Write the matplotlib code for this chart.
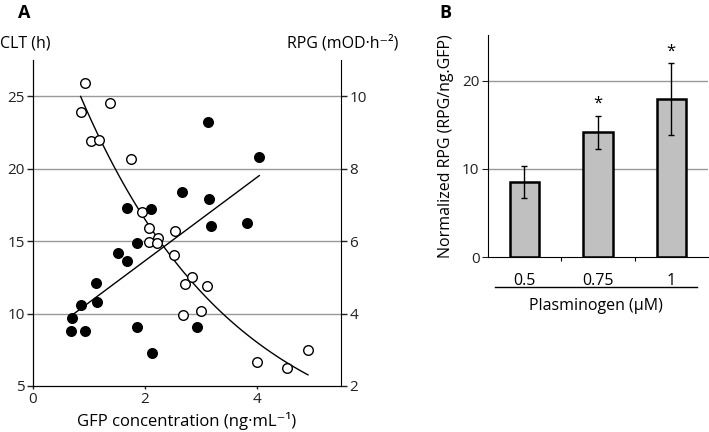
import numpy as np
import matplotlib
matplotlib.use("Agg")
import matplotlib.pyplot as plt

plt.rcParams['font.family'] = ['Open Sans', 'DejaVu Sans']

# Panel A: CLT (open circles, left axis) and RPG (filled circles, right axis) vs GFP
clt_gfp = [0.93, 0.85, 1.38, 1.03, 1.18, 1.75, 1.95, 2.07, 2.07, 2.23, 2.22,
           2.53, 2.51, 2.83, 2.71, 3.10, 2.68, 3.00, 4.00, 4.54, 4.91]
clt_h = [25.9, 23.9, 24.55, 21.9, 21.96, 20.7, 17.0, 15.9, 14.94, 15.2, 14.9,
         15.67, 14.07, 12.55, 12.05, 11.89, 9.92, 10.2, 6.63, 6.26, 7.5]

rpg_gfp = [3.12, 4.04, 2.66, 3.15, 1.67, 2.11, 3.82, 3.17, 1.86, 1.51, 1.67,
           1.13, 1.14, 0.85, 0.70, 0.68, 0.92, 1.85, 2.92, 2.12]
rpg_val = [9.30, 8.31, 7.35, 7.17, 6.92, 6.88, 6.50, 6.42, 5.96, 5.67, 5.46,
           4.84, 4.32, 4.25, 3.87, 3.51, 3.51, 3.63, 3.63, 2.92]

# Panel B: normalized RPG by plasminogen concentration
plg_labels = ['0.5', '0.75', '1']
norm_rpg = [8.5, 14.15, 17.9]
norm_err = [1.85, 1.9, 4.1]
signif = ['', '*', '*']

fig = plt.figure(figsize=(7.09, 4.32), dpi=100)

# ---- Panel A ----
ax = fig.add_axes([0.0466, 0.1065, 0.4344, 0.7545])
ax2 = ax.twinx()

ax.set_xlim(0, 5.5)
ax.set_ylim(5, 27.5)
ax2.set_ylim(2, 11)

for y in [10, 15, 20, 25]:
    ax.axhline(y, color='#999999', lw=1, zorder=0)

# exponential trendline for CLT
cx = np.array(clt_gfp)
b, a = np.polyfit(cx, np.log(clt_h), 1)
xs = np.linspace(cx.min(), cx.max(), 100)
ax.plot(xs, np.exp(a) * np.exp(b * xs), color='black', lw=1, zorder=2)
ax.scatter(clt_gfp, clt_h, s=48, facecolors='white', edgecolors='black',
           linewidths=1, zorder=3)

# linear trendline for RPG
rx = np.array(rpg_gfp)
m, c = np.polyfit(rx, rpg_val, 1)
xs2 = np.array([rx.min(), rx.max()])
ax2.plot(xs2, m * xs2 + c, color='black', lw=1, zorder=2)
ax2.scatter(rpg_gfp, rpg_val, s=48, color='black', zorder=3)

ax.set_xticks([0, 2, 4])
ax.set_yticks([5, 10, 15, 20, 25])
ax2.set_yticks([2, 4, 6, 8, 10])
for a_ in (ax, ax2):
    a_.spines['top'].set_visible(False)
    a_.tick_params(labelsize=11, length=4, width=1, pad=2, colors='#222222')
ax.spines['right'].set_visible(False)
ax.tick_params(axis='x', length=2)
ax.set_xlabel('GFP concentration (ng·mL⁻¹)', fontsize=12, labelpad=4)
fig.text(0.0, 0.90, 'CLT (h)', fontsize=11.5, ha='left', va='center')
fig.text(0.562, 0.90, 'RPG (mOD·h⁻²)', fontsize=11.5, ha='right', va='center')
fig.text(0.025, 0.97, 'A', fontsize=13, fontweight='bold', ha='left', va='center')

# ---- Panel B ----
bx = fig.add_axes([0.688, 0.405, 0.3106, 0.514])
pos = np.arange(len(plg_labels))
bx.set_xlim(-0.5, 2.5)
bx.set_ylim(0, 25.2)
for y in [10, 20]:
    bx.axhline(y, color='#999999', lw=1, zorder=0)
bx.bar(pos, norm_rpg, width=0.4, color='#c0c0c0', edgecolor='black',
       linewidth=1.8, zorder=2)
bx.errorbar(pos, norm_rpg, yerr=norm_err, fmt='none', ecolor='black',
            elinewidth=1, capsize=2.5, capthick=1, zorder=3)
for p, v, e, s in zip(pos, norm_rpg, norm_err, signif):
    if s:
        bx.text(p, v + e + 0.4, s, ha='center', va='bottom', fontsize=12)
bx.spines['top'].set_visible(False)
bx.spines['right'].set_visible(False)
bx.set_yticks([0, 10, 20])
bx.set_xticks([0.5, 1.5])
bx.set_xticklabels(['', ''])
bx.tick_params(axis='y', labelsize=11, length=4, pad=2, colors='#222222')
bx.tick_params(axis='x', length=3)
for p, lab in zip(pos, plg_labels):
    bx.text(p, -0.07, lab, transform=bx.get_xaxis_transform(), ha='center',
            va='top', fontsize=11.5)
fig.add_artist(plt.Line2D([0.698, 0.983], [1 - 287 / 432] * 2, color='black',
                          lw=1))
fig.text(0.84, 1 - 306 / 432, 'Plasminogen (μM)', fontsize=11.5, ha='center',
         va='center')
bx.set_ylabel('Normalized RPG (RPG/ng.GFP)', fontsize=11.5, labelpad=6)
fig.text(0.62, 0.97, 'B', fontsize=13, fontweight='bold', ha='left', va='center')

fig.savefig('out.png', dpi=100)
